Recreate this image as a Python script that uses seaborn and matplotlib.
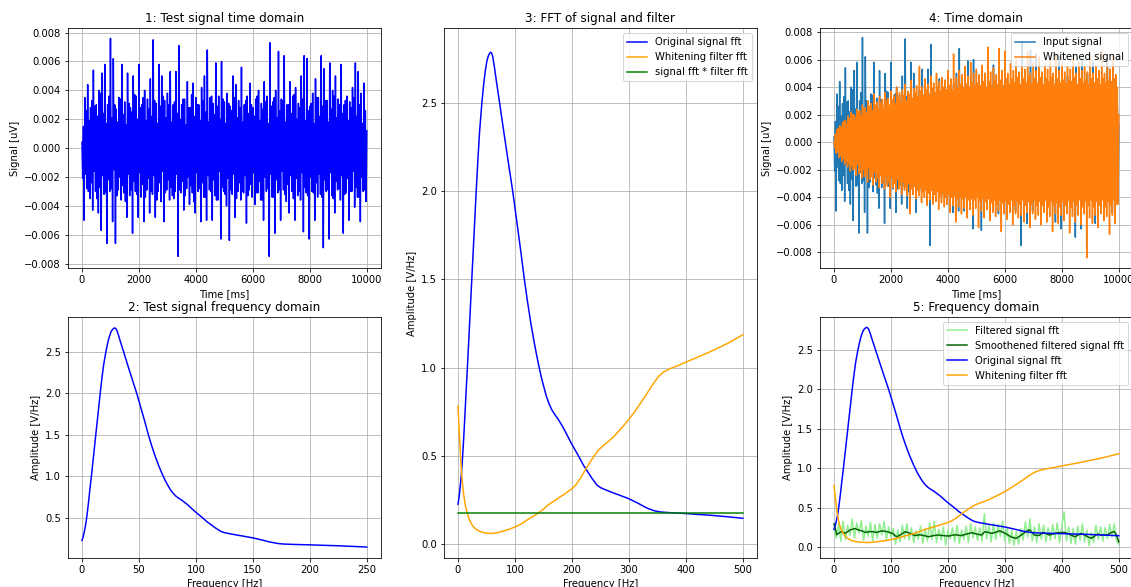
import matplotlib
matplotlib.use("Agg")
import matplotlib.pyplot as plt
import seaborn as sns
import pandas as pd

# ---------------- data ----------------
time_ms = list(range(0, 10001, 25))

input_signal = [
    0.0004, -0.0021, 0.0015, -0.0050,  0.0035, -0.0018, 0.0026, -0.0028,  0.0044, -0.0030, 0.0019, -0.0035,
    0.0028, -0.0024, 0.0033, -0.0043,  0.0054, -0.0016, 0.0029, -0.0030,  0.0030, -0.0035, 0.0022, -0.0045,
    0.0040, -0.0027, 0.0038, -0.0057,  0.0052, -0.0019, 0.0024, -0.0032,  0.0058, -0.0031, 0.0017, -0.0066,
    0.0030, -0.0022, 0.0036, -0.0030,  0.0076, -0.0028, 0.0021, -0.0051,  0.0062, -0.0015, 0.0030, -0.0066,
    0.0027, -0.0033, 0.0018, -0.0029,  0.0035, -0.0020, 0.0034, -0.0036,  0.0058, -0.0026, 0.0023, -0.0031,
    0.0032, -0.0037, 0.0016, -0.0048,  0.0052, -0.0018, 0.0031, -0.0033,  0.0028, -0.0029, 0.0025, -0.0059,
    0.0050, -0.0023, 0.0037, -0.0030,  0.0036, -0.0032, 0.0020, -0.0048,  0.0058, -0.0017, 0.0028, -0.0034,
    0.0030, -0.0025, 0.0035, -0.0051,  0.0040, -0.0034, 0.0019, -0.0029,  0.0034, -0.0021, 0.0027, -0.0045,
    0.0048, -0.0030, 0.0022, -0.0032,  0.0075, -0.0019, 0.0033, -0.0048,  0.0031, -0.0036, 0.0017, -0.0030,
    0.0058, -0.0024, 0.0029, -0.0037,  0.0050, -0.0016, 0.0036, -0.0051,  0.0033, -0.0031, 0.0021, -0.0029,
    0.0038, -0.0022, 0.0030, -0.0036,  0.0053, -0.0027, 0.0018, -0.0033,  0.0030, -0.0035, 0.0032, -0.0030,
    0.0053, -0.0018, 0.0024, -0.0075,  0.0071, -0.0029, 0.0020, -0.0031,  0.0030, -0.0023, 0.0034, -0.0043,
    0.0034, -0.0033, 0.0016, -0.0028,  0.0046, -0.0020, 0.0028, -0.0039,  0.0028, -0.0026, 0.0037, -0.0031,
    0.0045, -0.0037, 0.0022, -0.0045,  0.0035, -0.0017, 0.0030, -0.0030,  0.0030, -0.0028, 0.0019, -0.0051,
    0.0042, -0.0024, 0.0033, -0.0034,  0.0050, -0.0034, 0.0025, -0.0050,  0.0068, -0.0019, 0.0018, -0.0029,
    0.0035, -0.0030, 0.0036, -0.0050,  0.0031, -0.0022, 0.0023, -0.0033,  0.0059, -0.0036, 0.0029, -0.0036,
    0.0036, -0.0016, 0.0020, -0.0063,  0.0060, -0.0027, 0.0034, -0.0030,  0.0032, -0.0032, 0.0017, -0.0040,
    0.0038, -0.0021, 0.0031, -0.0064,  0.0029, -0.0029, 0.0026, -0.0032,  0.0050, -0.0018, 0.0035, -0.0048,
    0.0044, -0.0035, 0.0021, -0.0030,  0.0033, -0.0024, 0.0028, -0.0036,  0.0056, -0.0030, 0.0018, -0.0031,
    0.0030, -0.0019, 0.0033, -0.0052,  0.0036, -0.0033, 0.0024, -0.0029,  0.0045, -0.0025, 0.0030, -0.0034,
    0.0028, -0.0017, 0.0022, -0.0039,  0.0034, -0.0031, 0.0036, -0.0031,  0.0040, -0.0023, 0.0019, -0.0036,
    0.0031, -0.0036, 0.0027, -0.0050,  0.0046, -0.0020, 0.0032, -0.0030,  0.0036, -0.0028, 0.0017, -0.0075,
    0.0073, -0.0018, 0.0029, -0.0034,  0.0032, -0.0034, 0.0035, -0.0059,  0.0040, -0.0022, 0.0021, -0.0031,
    0.0067, -0.0029, 0.0026, -0.0050,  0.0034, -0.0016, 0.0033, -0.0029,  0.0064, -0.0032, 0.0018, -0.0037,
    0.0030, -0.0025, 0.0030, -0.0045,  0.0046, -0.0019, 0.0024, -0.0030,  0.0036, -0.0035, 0.0037, -0.0050,
    0.0042, -0.0021, 0.0020, -0.0033,  0.0031, -0.0030, 0.0028, -0.0036,  0.0050, -0.0017, 0.0034, -0.0058,
    0.0064, -0.0027, 0.0019, -0.0031,  0.0062, -0.0033, 0.0026, -0.0063,  0.0029, -0.0020, 0.0031, -0.0030,
    0.0038, -0.0031, 0.0017, -0.0050,  0.0048, -0.0024, 0.0035, -0.0034,  0.0035, -0.0018, 0.0022, -0.0032,
    0.0064, -0.0034, 0.0029, -0.0069,  0.0055, -0.0022, 0.0033, -0.0030,  0.0033, -0.0029, 0.0018, -0.0063,
    0.0059, -0.0017, 0.0027, -0.0033,  0.0040, -0.0035, 0.0036, -0.0045,  0.0050, -0.0023, 0.0021, -0.0029,
    0.0034, -0.0028, 0.0030, -0.0036,  0.0058, -0.0019, 0.0024, -0.0059,  0.0030, -0.0032, 0.0033, -0.0031,
    0.0036, -0.0021, 0.0019, -0.0050,  0.0032, -0.0030, 0.0028, -0.0030,  0.0042, -0.0016, 0.0035, -0.0041,
    0.0059, -0.0027, 0.0022, -0.0034,  0.0053, -0.0034, 0.0030, -0.0051,  0.0038, -0.0020, 0.0017, -0.0030,
    0.0045, -0.0029, 0.0026, -0.0037,
    0.0012,
]

whitened_signal = [
    0.0000, -0.0004, 0.0006, -0.0008,  0.0009, -0.0007, 0.0010, -0.0011,  0.0012, -0.0010, 0.0011, -0.0014,
    0.0014, -0.0012, 0.0015, -0.0016,  0.0016, -0.0014, 0.0013, -0.0018,  0.0019, -0.0015, 0.0017, -0.0021,
    0.0022, -0.0017, 0.0020, -0.0020,  0.0020, -0.0019, 0.0018, -0.0024,  0.0024, -0.0016, 0.0022, -0.0023,
    0.0023, -0.0021, 0.0019, -0.0026,  0.0027, -0.0020, 0.0024, -0.0025,  0.0025, -0.0023, 0.0021, -0.0029,
    0.0030, -0.0019, 0.0026, -0.0027,  0.0028, -0.0025, 0.0023, -0.0031,  0.0035, -0.0022, 0.0027, -0.0029,
    0.0029, -0.0026, 0.0024, -0.0033,  0.0033, -0.0024, 0.0028, -0.0030,  0.0031, -0.0028, 0.0025, -0.0034,
    0.0036, -0.0025, 0.0030, -0.0032,  0.0032, -0.0029, 0.0027, -0.0040,  0.0037, -0.0026, 0.0031, -0.0033,
    0.0034, -0.0030, 0.0028, -0.0036,  0.0040, -0.0027, 0.0032, -0.0034,  0.0036, -0.0031, 0.0029, -0.0038,
    0.0038, -0.0029, 0.0034, -0.0035,  0.0042, -0.0033, 0.0030, -0.0039,  0.0037, -0.0030, 0.0035, -0.0052,
    0.0045, -0.0034, 0.0032, -0.0038,  0.0039, -0.0032, 0.0036, -0.0041,  0.0041, -0.0035, 0.0033, -0.0039,
    0.0055, -0.0033, 0.0037, -0.0044,  0.0040, -0.0036, 0.0034, -0.0040,  0.0046, -0.0035, 0.0038, -0.0046,
    0.0042, -0.0037, 0.0035, -0.0042,  0.0048, -0.0035, 0.0039, -0.0045,  0.0043, -0.0038, 0.0036, -0.0043,
    0.0050, -0.0036, 0.0040, -0.0049,  0.0044, -0.0039, 0.0037, -0.0044,  0.0047, -0.0037, 0.0040, -0.0047,
    0.0045, -0.0040, 0.0038, -0.0045,  0.0052, -0.0038, 0.0041, -0.0051,  0.0046, -0.0040, 0.0038, -0.0046,
    0.0064, -0.0039, 0.0042, -0.0058,  0.0047, -0.0041, 0.0039, -0.0047,  0.0052, -0.0040, 0.0042, -0.0052,
    0.0049, -0.0041, 0.0040, -0.0048,  0.0055, -0.0040, 0.0042, -0.0055,  0.0048, -0.0042, 0.0040, -0.0049,
    0.0058, -0.0041, 0.0043, -0.0053,  0.0050, -0.0042, 0.0041, -0.0048,  0.0053, -0.0040, 0.0043, -0.0062,
    0.0049, -0.0043, 0.0041, -0.0050,  0.0056, -0.0041, 0.0044, -0.0055,  0.0050, -0.0043, 0.0040, -0.0049,
    0.0069, -0.0041, 0.0044, -0.0057,  0.0051, -0.0044, 0.0041, -0.0051,  0.0054, -0.0042, 0.0045, -0.0054,
    0.0049, -0.0045, 0.0042, -0.0050,  0.0068, -0.0042, 0.0045, -0.0065,  0.0052, -0.0044, 0.0041, -0.0052,
    0.0066, -0.0043, 0.0046, -0.0056,  0.0050, -0.0045, 0.0042, -0.0051,  0.0057, -0.0042, 0.0046, -0.0060,
    0.0052, -0.0046, 0.0043, -0.0052,  0.0060, -0.0043, 0.0047, -0.0055,  0.0051, -0.0045, 0.0042, -0.0053,
    0.0055, -0.0042, 0.0046, -0.0058,  0.0053, -0.0046, 0.0043, -0.0051,  0.0066, -0.0043, 0.0047, -0.0062,
    0.0050, -0.0045, 0.0042, -0.0052,  0.0058, -0.0042, 0.0046, -0.0056,  0.0052, -0.0046, 0.0043, -0.0053,
    0.0062, -0.0043, 0.0047, -0.0060,  0.0051, -0.0046, 0.0042, -0.0051,  0.0056, -0.0042, 0.0046, -0.0058,
    0.0053, -0.0047, 0.0044, -0.0054,  0.0059, -0.0043, 0.0047, -0.0065,  0.0050, -0.0046, 0.0042, -0.0052,
    0.0063, -0.0044, 0.0046, -0.0059,  0.0052, -0.0047, 0.0043, -0.0053,  0.0057, -0.0043, 0.0045, -0.0057,
    0.0051, -0.0046, 0.0042, -0.0052,  0.0055, -0.0042, 0.0045, -0.0066,  0.0053, -0.0047, 0.0044, -0.0054,
    0.0061, -0.0043, 0.0047, -0.0058,  0.0050, -0.0046, 0.0042, -0.0053,  0.0058, -0.0042, 0.0046, -0.0060,
    0.0052, -0.0047, 0.0043, -0.0052,  0.0055, -0.0043, 0.0045, -0.0084,  0.0051, -0.0046, 0.0042, -0.0055,
    0.0063, -0.0042, 0.0046, -0.0059,  0.0050, -0.0047, 0.0043, -0.0053,  0.0056, -0.0043, 0.0046, -0.0062,
    0.0052, -0.0046, 0.0042, -0.0052,  0.0066, -0.0042, 0.0046, -0.0057,  0.0050, -0.0047, 0.0043, -0.0054,
    0.0055, -0.0043, 0.0045, -0.0067,  0.0053, -0.0046, 0.0044, -0.0053,  0.0064, -0.0042, 0.0046, -0.0059,
    0.0049, -0.0045, 0.0040, -0.0045,
    0.0020,
]

# original signal spectrum (frequency axis of panels 3 and 5)
signal_freq_hz = [
    0, 2, 4, 6, 8, 10, 12, 14, 16.5, 19, 21, 23, 25, 28, 30, 32, 35, 38, 42, 45,
    48, 51, 54, 57, 59, 61, 64, 67, 70, 73, 77, 82, 88, 92, 96, 100, 105, 110, 116.5, 122,
    128, 134, 140, 146, 150, 155, 160, 165, 170, 175, 185, 199, 210, 220, 226, 235, 244, 250, 256, 270,
    285, 299, 315, 331, 345, 355, 370, 399, 420, 448, 475, 500,
]
# same spectrum on the frequency axis of panel 2
test_freq_hz = [
    0, 1, 2, 3, 4, 5, 6, 7, 8.25, 9.5, 10.5, 11.5, 12.5, 14, 15, 16, 17.5, 19, 21, 22.5,
    24, 25.5, 27, 28.5, 29.5, 30.5, 32, 33.5, 35, 36.5, 38.5, 41, 44, 46, 48, 50, 52.5, 55, 58.25, 61,
    64, 67, 70, 73, 75, 77.5, 80, 82.5, 85, 87.5, 92.5, 99.5, 105, 110, 113, 117.5, 122, 125, 128, 135,
    142.5, 149.5, 157.5, 165.5, 172.5, 177.5, 185, 199.5, 210, 224, 237.5, 250,
]
signal_amp = [
    0.228, 0.27, 0.33, 0.40, 0.49, 0.60, 0.72, 0.85, 1.0, 1.16, 1.29, 1.42, 1.55, 1.74, 1.87, 2.0, 2.18, 2.34, 2.5, 2.6,
    2.68, 2.74, 2.77, 2.785, 2.78, 2.76, 2.70, 2.63, 2.565, 2.5, 2.41, 2.30, 2.17, 2.085, 2.0, 1.905, 1.785, 1.665, 1.50, 1.375,
    1.25, 1.14, 1.04, 0.95, 0.90, 0.84, 0.795, 0.76, 0.735, 0.713, 0.66, 0.572, 0.51, 0.45, 0.42, 0.375, 0.336, 0.322, 0.313, 0.295,
    0.277, 0.26, 0.235, 0.207, 0.19, 0.184, 0.18, 0.175, 0.17, 0.164, 0.156, 0.148,
]

filter_freq_hz = [
    0, 1.5, 3, 4.5, 6, 8, 10.5, 13, 16.5, 20, 25, 30, 35, 40, 48, 57, 65, 72, 81, 90,
    101, 112, 122, 131, 140, 150, 158, 166, 175, 186, 199, 207, 215, 225, 238, 247, 256, 265, 273, 285,
    299, 310, 320, 332, 343, 352, 361, 372, 385, 399, 425, 448, 475, 500,
]
filter_amp = [
    0.783, 0.68, 0.59, 0.50, 0.42, 0.34, 0.27, 0.22, 0.175, 0.14, 0.109, 0.09, 0.079, 0.072, 0.065, 0.062, 0.064, 0.069, 0.077, 0.086,
    0.10, 0.118, 0.14, 0.157, 0.175, 0.20, 0.223, 0.24, 0.26, 0.283, 0.313, 0.337, 0.375, 0.43, 0.496, 0.535, 0.562, 0.585, 0.609, 0.65,
    0.703, 0.75, 0.797, 0.855, 0.91, 0.95, 0.976, 0.994, 1.01, 1.03, 1.065, 1.098, 1.14, 1.186,
]

product_freq_hz = [0, 500]
product_amp = [0.18, 0.18]

filtered_freq_hz = list(range(0, 501, 4))
filtered_amp = [
    0.26, 0.12, 0.30, 0.08, 0.33, 0.10, 0.28, 0.15, 0.36, 0.12, 0.31, 0.18, 0.34, 0.09, 0.27, 0.14, 0.32, 0.08, 0.29, 0.12,
    0.30, 0.16, 0.33, 0.10, 0.26, 0.13, 0.24, 0.04, 0.22, 0.07, 0.28, 0.11, 0.30, 0.09, 0.25, 0.06, 0.21, 0.10, 0.27, 0.05,
    0.24, 0.08, 0.31, 0.10, 0.33, 0.06, 0.23, 0.09, 0.26, 0.03, 0.22, 0.11, 0.25, 0.07, 0.28, 0.05, 0.22, 0.10, 0.27, 0.06,
    0.30, 0.12, 0.26, 0.09, 0.25, 0.08, 0.43, 0.11, 0.28, 0.07, 0.31, 0.10, 0.29, 0.14, 0.33, 0.08, 0.24, 0.05, 0.22, 0.03,
    0.20, 0.04, 0.24, 0.09, 0.32, 0.13, 0.36, 0.08, 0.26, 0.06, 0.30, 0.10, 0.28, 0.07, 0.25, 0.09, 0.29, 0.11, 0.31, 0.06,
    0.27, 0.45, 0.08, 0.26, 0.05, 0.24, 0.04, 0.27, 0.09, 0.30, 0.07, 0.22, 0.02, 0.19, 0.06, 0.28, 0.10, 0.26, 0.08, 0.25,
    0.11, 0.29, 0.13, 0.30, 0.09, 0.04,
]

smooth_freq_hz = [
    0, 5, 12, 20, 28, 37, 43, 49, 55, 62, 67, 75, 84, 93, 102, 110, 117, 125, 133, 142,
    150, 158, 166, 175, 183, 192, 201, 212, 224, 233, 242, 250, 259, 265, 277, 283, 291, 300, 312, 320,
    329, 337, 343, 352, 360, 367, 378, 393, 405, 415, 423, 434, 440, 445, 452, 463, 470, 480, 487, 492,
    496, 500,
]
smooth_amp = [
    0.30, 0.16, 0.20, 0.18, 0.22, 0.24, 0.22, 0.21, 0.19, 0.20, 0.20, 0.19, 0.21, 0.20, 0.18, 0.135, 0.16, 0.20, 0.18, 0.15,
    0.16, 0.15, 0.135, 0.15, 0.157, 0.15, 0.144, 0.16, 0.15, 0.17, 0.186, 0.17, 0.157, 0.20, 0.178, 0.19, 0.21, 0.18, 0.13, 0.115,
    0.157, 0.20, 0.225, 0.157, 0.15, 0.19, 0.157, 0.186, 0.19, 0.16, 0.135, 0.178, 0.157, 0.136, 0.115, 0.17, 0.157, 0.157, 0.19, 0.20,
    0.16, 0.07,
]

# ---------------- figure ----------------
W, H = 1131, 587
DPI = 72
fig = plt.figure(figsize=(W / DPI, H / DPI), dpi=DPI)


def axes_px(left, top, right, bottom):
    return fig.add_axes([left / W, 1 - bottom / H, (right - left) / W, (bottom - top) / H])


ax1 = axes_px(67.75, 28.3, 381, 268.3)
ax2 = axes_px(67.75, 316.7, 381, 557.7)
ax3 = axes_px(443.75, 28.3, 757, 557.7)
ax4 = axes_px(819.75, 28.3, 1133, 268.3)
ax5 = axes_px(819.75, 316.7, 1133, 557.7)

lw = 1.5


def line(ax, x, y, color, label=None, **kw):
    df = pd.DataFrame({"x": x, "y": y})
    sns.lineplot(data=df, x="x", y="y", ax=ax, color=color, lw=lw,
                 estimator=None, sort=False, label=label, legend=False, **kw)


# 1
line(ax1, time_ms, input_signal, "blue")
ax1.set_title("1: Test signal time domain", fontsize=12)
ax1.set_xlabel("Time [ms]")
ax1.set_ylabel("Signal [uV]")
ax1.set_xlim(-500, 10500)
ax1.set_ylim(-0.00833, 0.0083)

# 2
line(ax2, test_freq_hz, signal_amp, "blue")
ax2.set_title("2: Test signal frequency domain", fontsize=12)
ax2.set_xlabel("Frequency [Hz]")
ax2.set_ylabel("Amplitude [V/Hz]")
ax2.set_xlim(-12.5, 262.5)
ax2.set_ylim(0.02, 2.92)

# 3
line(ax3, signal_freq_hz, signal_amp, "blue", "Original signal fft")
line(ax3, filter_freq_hz, filter_amp, "orange", "Whitening filter fft")
line(ax3, product_freq_hz, product_amp, "green", "signal fft * filter fft")
ax3.set_title("3: FFT of signal and filter", fontsize=12)
ax3.set_xlabel("Frequency [Hz]")
ax3.set_ylabel("Amplitude [V/Hz]")
ax3.set_xlim(-25, 525)
ax3.set_ylim(-0.075, 2.92)
ax3.legend(loc="upper right")

# 4
line(ax4, time_ms, input_signal, "#1f77b4", "Input signal")
line(ax4, time_ms, whitened_signal, "#ff7f0e", "Whitened signal")
ax4.set_title("4: Time domain", fontsize=12)
ax4.set_xlabel("Time [ms]")
ax4.set_ylabel("Signal [uV]")
ax4.set_xlim(-500, 10500)
ax4.set_ylim(-0.00916, 0.00827)
ax4.legend(loc="upper right")

# 5
line(ax5, filtered_freq_hz, filtered_amp, "lightgreen", "Filtered signal fft")
line(ax5, smooth_freq_hz, smooth_amp, "darkgreen", "Smoothened filtered signal fft")
line(ax5, signal_freq_hz, signal_amp, "blue", "Original signal fft")
line(ax5, filter_freq_hz, filter_amp, "orange", "Whitening filter fft")
ax5.set_title("5: Frequency domain", fontsize=12)
ax5.set_xlabel("Frequency [Hz]")
ax5.set_ylabel("Amplitude [V/Hz]")
ax5.set_xlim(-25, 525)
ax5.set_ylim(-0.13, 2.92)
ax5.legend(loc="upper right")

for ax in (ax1, ax2, ax3, ax4, ax5):
    ax.grid(True)

fig.savefig("out.png", dpi=DPI)
